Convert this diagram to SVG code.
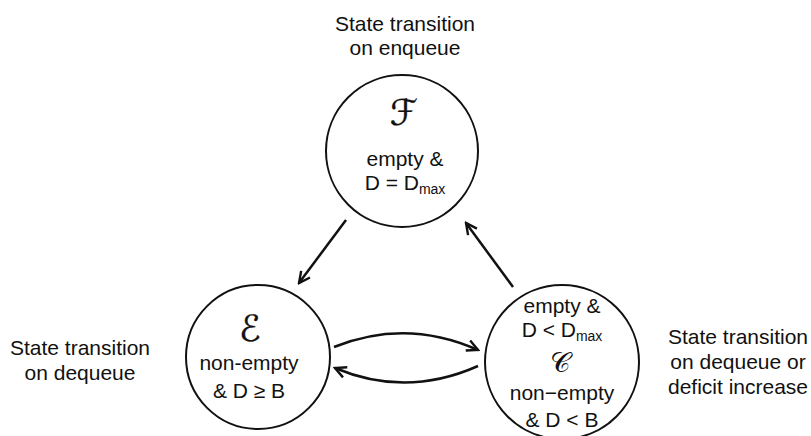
<svg xmlns="http://www.w3.org/2000/svg" width="811" height="436" viewBox="0 0 811 436">
<style>
  .t { font-family: "Liberation Sans", Arial, sans-serif; font-size: 21px; fill: #111; text-anchor: middle; }
  .sub { font-size: 14px; }
  .m { font-family: "DejaVu Serif", "DejaVu Sans", serif; font-size: 36px; fill: #111; stroke: #111; stroke-width: 0.3; text-anchor: middle; }
  .c { fill: #fff; stroke: #111; stroke-width: 2; }
  .a { fill: none; stroke: #111; stroke-width: 2.5; }
</style>
<defs>
  <marker id="ah" viewBox="0 0 14 14" refX="12" refY="7" markerWidth="14" markerHeight="14" markerUnits="userSpaceOnUse" orient="auto">
    <path d="M1,1.5 L12,7 L1,12.5" fill="none" stroke="#111" stroke-width="2.4" stroke-linejoin="miter"/>
  </marker>
</defs>
<rect width="811" height="436" fill="#fff"/>

<g id="label-top">
  <text class="t" x="405" y="31">State transition</text>
  <text class="t" x="405" y="55">on enqueue</text>
</g>
<g id="label-left">
  <text class="t" x="80" y="355">State transition</text>
  <text class="t" x="80" y="380">on dequeue</text>
</g>
<g id="label-right">
  <text class="t" x="738" y="344">State transition</text>
  <text class="t" x="738" y="369">on dequeue or</text>
  <text class="t" x="738" y="394">deficit increase</text>
</g>

<g id="node-F">
  <circle class="c" cx="402" cy="151" r="76"/>
  <text class="m" x="404" y="125">ℱ</text>
  <text class="t" x="405" y="166">empty &amp;</text>
  <text class="t" x="405" y="190">D = D<tspan class="sub" dy="4">max</tspan></text>
</g>

<g id="node-E">
  <circle class="c" cx="258" cy="357" r="72"/>
  <text class="m" x="250" y="341">ℰ</text>
  <text class="t" x="249" y="370">non-empty</text>
  <text class="t" x="249" y="398">&amp; D ≥ B</text>
</g>

<g id="node-C">
  <circle class="c" cx="562" cy="362" r="77"/>
  <text class="t" x="562" y="313">empty &amp;</text>
  <text class="t" x="562" y="337">D &lt; D<tspan class="sub" dy="4">max</tspan></text>
  <text class="m" x="560" y="372" style="font-size:28px;stroke-width:0">𝒞</text>
  <text class="t" x="562" y="400">non−empty</text>
  <text class="t" x="562" y="427">&amp; D &lt; B</text>
</g>

<g id="connectors">
  <line class="a" x1="346" y1="220" x2="299" y2="283" marker-end="url(#ah)"/>
  <line class="a" x1="513" y1="287" x2="466" y2="223" marker-end="url(#ah)"/>
  <path class="a" d="M334,347 Q406,318 478,350" marker-end="url(#ah)"/>
  <path class="a" d="M478,366 Q406,398 335,368" marker-end="url(#ah)"/>
</g>
</svg>
